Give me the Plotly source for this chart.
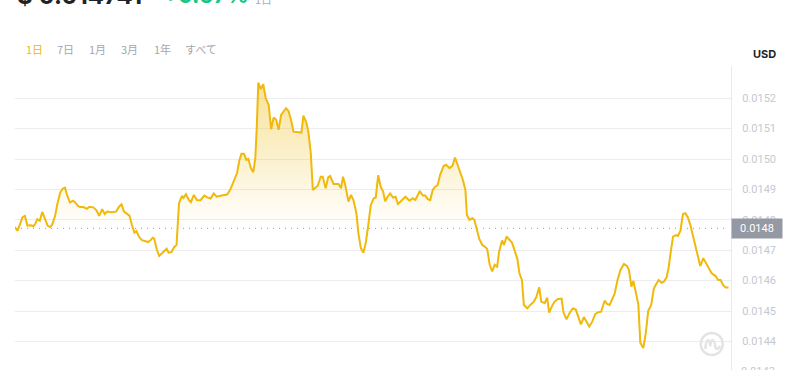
import plotly.graph_objects as go
from datetime import datetime, timedelta

# ---------------- data ----------------
minutes = [0, 5, 9, 15, 20, 25, 32, 37, 41, 45, 50, 55, 59, 66, 71, 75, 81, 85, 91, 96,
           101, 105, 111, 117, 121, 127, 131, 138, 145, 150, 158, 164, 170, 176, 181, 186, 195, 204, 210, 215,
           220, 226, 231, 236, 241, 245, 250, 256, 263, 269, 274, 278, 281, 286, 291, 297, 306, 310, 316, 321,
           326, 331, 337, 340, 345, 351, 355, 361, 367, 374, 382, 388, 395, 401, 407, 417, 428, 434, 441, 448,
           453, 457, 462, 467, 471, 476, 481, 485, 488, 491, 496, 501, 506, 512, 517, 522, 527, 532, 537, 542,
           547, 552, 557, 562, 571, 578, 582, 588, 592, 597, 601, 606, 611, 617, 621, 627, 632, 636, 643, 653,
           658, 662, 666, 673, 678, 683, 689, 693, 698, 703, 708, 713, 718, 724, 728, 733, 738, 743, 747, 752,
           757, 763, 768, 773, 778, 788, 796, 803, 808, 817, 823, 828, 833, 838, 843, 848, 853, 858, 865, 870,
           877, 883, 888, 893, 898, 904, 909, 912, 917, 923, 927, 932, 937, 943, 948, 953, 958, 963, 968, 973,
           977, 983, 987, 992, 998, 1003, 1008, 1014, 1018, 1023, 1027, 1034, 1040, 1047, 1052, 1058, 1062, 1069, 1074, 1078,
           1084, 1089, 1095, 1103, 1107, 1113, 1119, 1126, 1132, 1137, 1142, 1148, 1153, 1159, 1165, 1171, 1177, 1183, 1190, 1195,
           1200, 1206, 1210, 1216, 1222, 1229, 1235, 1239, 1244, 1248, 1254, 1258, 1262, 1268, 1273, 1278, 1284, 1289, 1293, 1299,
           1305, 1310, 1315, 1319, 1324, 1328, 1334, 1338, 1343, 1348, 1353, 1358, 1363, 1369, 1375, 1383, 1389, 1395, 1400, 1406,
           1414, 1419, 1424, 1429, 1434, 1440]

prices = [0.014776, 0.014764, 0.014781, 0.014808, 0.014813, 0.014781, 0.014782, 0.014779, 0.014787, 0.014802,
          0.014797, 0.014826, 0.014810, 0.014780, 0.014776, 0.014784, 0.014813, 0.014849, 0.014889, 0.014902,
          0.014906, 0.014882, 0.014857, 0.014863, 0.014858, 0.014846, 0.014842, 0.014842, 0.014836, 0.014843,
          0.014841, 0.014832, 0.014813, 0.014835, 0.014819, 0.014827, 0.014825, 0.014827, 0.014843, 0.014851,
          0.014827, 0.014820, 0.014814, 0.014783, 0.014758, 0.014763, 0.014745, 0.014733, 0.014730, 0.014727,
          0.014734, 0.014741, 0.014738, 0.014703, 0.014681, 0.014692, 0.014705, 0.014692, 0.014694, 0.014710,
          0.014717, 0.014855, 0.014879, 0.014872, 0.014884, 0.014865, 0.014858, 0.014882, 0.014865, 0.014864,
          0.014880, 0.014874, 0.014870, 0.014887, 0.014876, 0.014880, 0.014883, 0.014898, 0.014926, 0.014953,
          0.014997, 0.015017, 0.015017, 0.014997, 0.015000, 0.014970, 0.014957, 0.015003, 0.015107, 0.015251,
          0.015230, 0.015246, 0.015200, 0.015178, 0.015098, 0.015137, 0.015129, 0.015096, 0.015145, 0.015156,
          0.015167, 0.015158, 0.015129, 0.015090, 0.015089, 0.015087, 0.015143, 0.015120, 0.015090, 0.015019,
          0.014898, 0.014904, 0.014912, 0.014942, 0.014942, 0.014904, 0.014940, 0.014944, 0.014918, 0.014918,
          0.014904, 0.014942, 0.014918, 0.014860, 0.014882, 0.014865, 0.014822, 0.014756, 0.014707, 0.014692,
          0.014725, 0.014783, 0.014849, 0.014871, 0.014873, 0.014947, 0.014909, 0.014893, 0.014861, 0.014876,
          0.014887, 0.014873, 0.014876, 0.014852, 0.014860, 0.014876, 0.014863, 0.014871, 0.014865, 0.014895,
          0.014880, 0.014880, 0.014868, 0.014865, 0.014898, 0.014909, 0.014914, 0.014948, 0.014977, 0.014981,
          0.014970, 0.014978, 0.015005, 0.014981, 0.014959, 0.014931, 0.014898, 0.014816, 0.014800, 0.014805,
          0.014800, 0.014772, 0.014737, 0.014717, 0.014712, 0.014704, 0.014652, 0.014630, 0.014652, 0.014646,
          0.014695, 0.014732, 0.014717, 0.014745, 0.014732, 0.014725, 0.014701, 0.014670, 0.014624, 0.014602,
          0.014520, 0.014509, 0.014520, 0.014531, 0.014545, 0.014578, 0.014531, 0.014526, 0.014544, 0.014495,
          0.014517, 0.014531, 0.014539, 0.014541, 0.014495, 0.014473, 0.014493, 0.014509, 0.014504, 0.014476,
          0.014456, 0.014480, 0.014465, 0.014449, 0.014465, 0.014490, 0.014496, 0.014498, 0.014534, 0.014523,
          0.014520, 0.014539, 0.014556, 0.014602, 0.014635, 0.014655, 0.014648, 0.014635, 0.014580, 0.014599,
          0.014550, 0.014522, 0.014396, 0.014378, 0.014427, 0.014501, 0.014520, 0.014572, 0.014586, 0.014602,
          0.014593, 0.014597, 0.014611, 0.014641, 0.014701, 0.014745, 0.014750, 0.014747, 0.014764, 0.014819,
          0.014822, 0.014808, 0.014783, 0.014745, 0.014701, 0.014648, 0.014674, 0.014657, 0.014641, 0.014624,
          0.014615, 0.014602, 0.014602, 0.014586, 0.014577, 0.014577]

open_price = 0.014772
tag_label = "0.0148"
tick_vals = [0.0144, 0.0145, 0.0146, 0.0147, 0.0148, 0.0149, 0.0150, 0.0151, 0.0152]
partial_tick = 0.0143
y_range = [0.014306, 0.015306]
x_span_minutes = 1445

header_price = "$ 0.014741"
header_change = "+0.57%"
header_period = "1日"
tabs = ["1日", "7日", "1月", "3月", "1年", "すべて"]
currency = "USD"

# ---------------- build ----------------
start = datetime(2024, 5, 1, 0, 0)
times = [start + timedelta(minutes=m) for m in minutes]

W, H = 800, 370
ML, MR, MT, MB = 15, 69.3, 66, 0
PW, PH = W - ML - MR, H - MT - MB


def px(p):
    return (p - ML) / PW


def py(p):
    return (H - MB - p) / PH


YEL = "#F0B90B"

fig = go.Figure()
fig.add_trace(go.Scatter(
    x=[times[0], times[-1]], y=[open_price, open_price], mode="lines",
    line=dict(color="#9a9a9a", width=1, dash="1px,5px"), hoverinfo="skip", showlegend=False))
fig.add_trace(go.Scatter(
    x=times, y=prices, mode="lines",
    line=dict(color=YEL, width=2),
    fill="tonexty",
    fillgradient=dict(type="vertical",
                      colorscale=[[0, "rgba(240,185,11,0)"], [1, "rgba(240,185,11,0.42)"]],
                      start=open_price, stop=max(prices)),
    showlegend=False))

annotations = []
# header
annotations.append(dict(xref="paper", yref="paper", x=px(15), y=py(-4), xanchor="left", yanchor="middle",
                        text=header_price, showarrow=False,
                        font=dict(family="Inter", size=24, color="#1e2329", weight="bold")))
annotations.append(dict(xref="paper", yref="paper", x=px(161), y=py(-5), xanchor="left", yanchor="middle",
                        text=header_change, showarrow=False,
                        font=dict(family="Inter", size=22, color="#16c784", weight="bold")))
annotations.append(dict(xref="paper", yref="paper", x=px(253), y=py(-1), xanchor="left", yanchor="middle",
                        text=header_period, showarrow=False,
                        font=dict(family="Noto Sans CJK JP", size=11, color="#a7adb7")))
# tabs
tab_x = [24, 55, 87, 119, 152, 183]
for i, (t, xx) in enumerate(zip(tabs, tab_x)):
    annotations.append(dict(xref="paper", yref="paper", x=px(xx), y=py(49), xanchor="left", yanchor="middle",
                            text=t, showarrow=False,
                            font=dict(family="Noto Sans CJK JP", size=11,
                                      color=YEL if i == 0 else "#a1a7b2")))
# currency
annotations.append(dict(xref="paper", yref="paper", x=px(764), y=py(54), xanchor="center", yanchor="middle",
                        text=currency, showarrow=False,
                        font=dict(family="Inter", size=11, color="#1e2329", weight="bold")))
# partially visible bottom tick
annotations.append(dict(xref="paper", yref="paper", x=1, xshift=8, y=py(371.7), xanchor="left", yanchor="middle",
                        text=f"{partial_tick:.4f}", showarrow=False,
                        font=dict(family="Roboto", size=11, color="#c5c9d0")))
# price tag
annotations.append(dict(xref="paper", yref="y", x=1, y=open_price, xanchor="left", yanchor="middle",
                        text=tag_label, showarrow=False, bgcolor="#9499a3", width=50, height=19,
                        borderpad=0, align="center",
                        font=dict(family="Roboto", size=11, color="#ffffff")))

shapes = [
    dict(type="circle", xref="paper", yref="paper",
         x0=px(700.5), x1=px(722.5), y0=py(355), y1=py(333),
         line=dict(color="#e4e4e4", width=2.5)),
    dict(type="path", xref="paper", yref="paper",
         path=(f"M {px(705)},{py(349)} C {px(706)},{py(338)} {px(709)},{py(338)} {px(710)},{py(346)} "
               f"C {px(711)},{py(338)} {px(714)},{py(338)} {px(715)},{py(347)} "
               f"C {px(716)},{py(350)} {px(718)},{py(349)} {px(720)},{py(346)}"),
         line=dict(color="#e4e4e4", width=2.5)),
]

fig.update_layout(
    width=W, height=H,
    margin=dict(l=ML, r=MR, t=MT, b=MB, pad=0),
    paper_bgcolor="white", plot_bgcolor="white",
    annotations=annotations, shapes=shapes,
    xaxis=dict(range=[start, start + timedelta(minutes=x_span_minutes)],
               showgrid=False, showticklabels=False, zeroline=False, showline=False, ticks=""),
    yaxis=dict(range=y_range, side="right", tickvals=tick_vals, tickformat=".4f",
               showgrid=True, gridcolor="#ebecef", gridwidth=1, zeroline=False,
               showline=True, linecolor="#e8e9ec", linewidth=1, ticks="",
               ticklabelstandoff=8,
               tickfont=dict(family="Roboto", size=11, color="#c5c9d0")),
    hovermode=False,
)

fig.write_html("out.html")
